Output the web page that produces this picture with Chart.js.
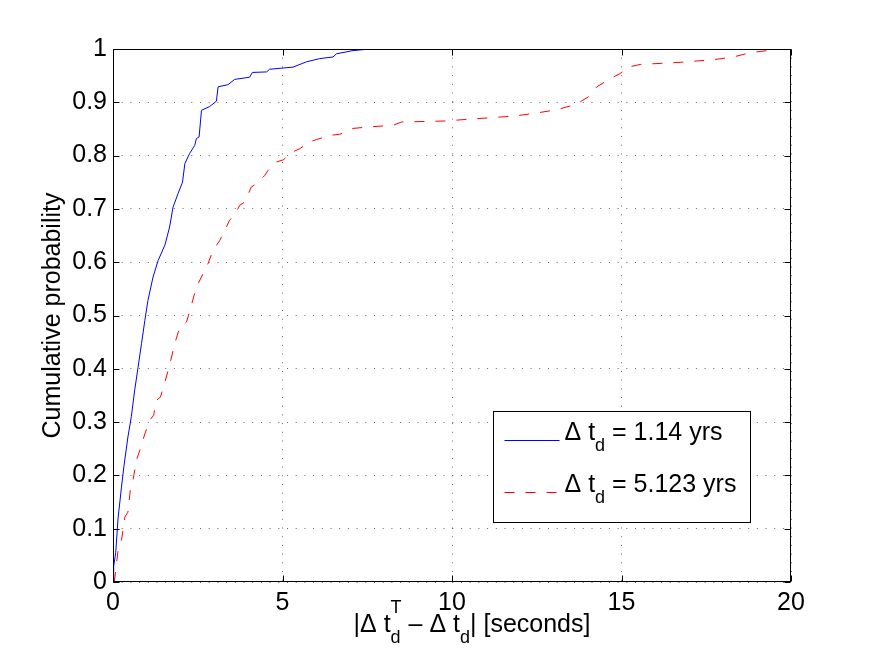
<!DOCTYPE html>
<html>
<head>
<meta charset="utf-8">
<script src="https://cdn.jsdelivr.net/npm/chart.js@4.4.1/dist/chart.umd.min.js"></script>
<style>
	html, body { margin: 0; padding: 0; background: #fff; }
	canvas { display: block; }
</style>
</head>
<body>
<canvas id="cdfChart" width="872" height="655"></canvas>
<script>
'use strict';

// values
var blueX = [0, 0.02, 0.08, 0.15, 0.25, 0.32, 0.44, 0.54, 0.64, 0.74, 0.84, 0.94, 1.03, 1.18, 1.33, 1.53, 1.67, 1.77, 1.92, 2.05,
	2.12, 2.26, 2.41, 2.46, 2.54, 2.61, 2.85, 3.05, 3.10, 3.39, 3.59, 4.03, 4.11, 4.53, 4.62, 5.31, 5.71, 6.10, 6.49, 6.59, 7.08, 7.58];
var blueY = [0, 0.03, 0.055, 0.12, 0.178, 0.216, 0.272, 0.31, 0.36, 0.403, 0.447, 0.491, 0.528, 0.572, 0.603, 0.632, 0.666, 0.703, 0.729, 0.75,
	0.785, 0.804, 0.819, 0.832, 0.835, 0.885, 0.892, 0.902, 0.929, 0.933, 0.943, 0.947, 0.956, 0.957, 0.962, 0.966, 0.976, 0.982, 0.985, 0.991, 0.997, 1.0];

var redX = [0.04, 0.10, 0.15, 0.25, 0.35, 0.44, 0.51, 0.59, 0.69, 0.79, 0.94, 1.08, 1.20, 1.28, 1.40, 1.53, 1.67, 1.82, 1.97, 2.17,
	2.28, 2.46, 2.66, 2.80, 2.95, 3.15, 3.30, 3.44, 3.59, 3.74, 3.89, 4.08, 4.23, 4.48, 4.57, 4.82, 5.02, 5.31, 5.51, 5.81,
	6.00, 6.40, 6.69, 7.08, 7.58, 8.27, 8.51, 9.84, 10.43, 11.81, 12.40, 13.09, 13.48, 13.78, 14.02, 14.27, 14.66, 14.96, 15.20, 15.55,
	16.73, 17.71, 18.30, 18.79, 19.68, 19.95];
var redY = [0, 0.034, 0.059, 0.078, 0.122, 0.131, 0.172, 0.191, 0.228, 0.247, 0.278, 0.303, 0.313, 0.341, 0.347, 0.375, 0.407, 0.447, 0.478, 0.488,
	0.512, 0.553, 0.579, 0.597, 0.622, 0.641, 0.660, 0.679, 0.688, 0.707, 0.713, 0.741, 0.747, 0.763, 0.772, 0.788, 0.792, 0.807, 0.813, 0.826,
	0.830, 0.838, 0.840, 0.851, 0.854, 0.857, 0.863, 0.865, 0.868, 0.874, 0.879, 0.886, 0.893, 0.901, 0.910, 0.929, 0.944, 0.954, 0.966, 0.971,
	0.975, 0.980, 0.985, 0.993, 1.0, 1.0];

var xTickLabels = ['0', '5', '10', '15', '20'];
var yTickLabels = ['0', '0.1', '0.2', '0.3', '0.4', '0.5', '0.6', '0.7', '0.8', '0.9', '1'];
var seriesNames = ['1.14 yrs', '5.123 yrs'];

var FONT = "'Liberation Sans', Arial, Helvetica, sans-serif";
var FS = 25;

function toPoints(xs, ys) {
	return xs.map(function(x, i) { return {x: x, y: ys[i]}; });
}

// draw text made of pieces: {t}, {sub}, {stack:[sup, sub]}
function drawTex(ctx, parts, x, y, size, dry) {
	var small = Math.round(size * 0.7);
	var cx = x;
	parts.forEach(function(p) {
		if (p.stack) {
			ctx.font = small + 'px ' + FONT;
			var w1 = ctx.measureText(p.stack[0]).width;
			var w2 = ctx.measureText(p.stack[1]).width;
			if (!dry) {
				ctx.fillText(p.stack[0], cx, y - 19);
				ctx.fillText(p.stack[1], cx, y + 11);
			}
			cx += Math.max(w1, w2);
		} else if (p.sub) {
			ctx.font = small + 'px ' + FONT;
			if (!dry) ctx.fillText(p.sub, cx, y + 11);
			cx += ctx.measureText(p.sub).width;
		} else {
			ctx.font = size + 'px ' + FONT;
			if (!dry) ctx.fillText(p.t, cx, y);
			cx += ctx.measureText(p.t).width;
		}
	});
	return cx - x;
}

var matlabFrame = {
	id: 'matlabFrame',
	afterDatasetsDraw: function(chart) {
		var ctx = chart.ctx;
		var ca = chart.chartArea;
		var xs = chart.scales.x, ys = chart.scales.y;
		ctx.save();
		ctx.strokeStyle = '#000';
		ctx.lineWidth = 1;
		ctx.setLineDash([]);
		// box
		var l = Math.round(ca.left) + 0.5, r = Math.round(ca.right) - 0.5;
		var t = Math.round(ca.top) + 0.5, b = Math.round(ca.bottom) - 0.5;
		ctx.strokeRect(l, t, r - l, b - t);
		// inner ticks on all sides
		ctx.beginPath();
		xs.ticks.forEach(function(tk) {
			var px = Math.round(xs.getPixelForValue(tk.value)) + 0.5;
			ctx.moveTo(px, b); ctx.lineTo(px, b - 6);
			ctx.moveTo(px, t); ctx.lineTo(px, t + 6);
		});
		ys.ticks.forEach(function(tk) {
			var py = Math.round(ys.getPixelForValue(tk.value)) + 0.5;
			ctx.moveTo(l, py); ctx.lineTo(l + 6, py);
			ctx.moveTo(r, py); ctx.lineTo(r - 6, py);
		});
		ctx.stroke();

		// legend
		var lx = Math.round(ca.right - 298) + 0.5, ly = Math.round(ca.bottom - 171) + 0.5;
		var lw = 257, lh = 111;
		ctx.fillStyle = '#fff';
		ctx.fillRect(lx, ly, lw, lh);
		ctx.strokeRect(lx, ly, lw, lh);
		var rows = [ly + 29, ly + 81];
		chart.data.datasets.forEach(function(ds, i) {
			ctx.save();
			ctx.strokeStyle = ds.borderColor;
			ctx.setLineDash(ds.borderDash || []);
			ctx.beginPath();
			ctx.moveTo(lx + 11, rows[i]);
			ctx.lineTo(lx + 66, rows[i]);
			ctx.stroke();
			ctx.restore();
			ctx.fillStyle = '#000';
			ctx.textBaseline = 'alphabetic';
			ctx.textAlign = 'left';
			drawTex(ctx, [{t: '\u0394 t'}, {sub: 'd'}, {t: ' = ' + seriesNames[i]}], lx + 71, rows[i] - 1, FS);
		});

		// x axis title
		var xParts = [{t: '|\u0394 t'}, {stack: ['T', 'd']}, {t: ' \u2013 \u0394 t'}, {sub: 'd'}, {t: '| [seconds]'}];
		ctx.fillStyle = '#000';
		ctx.textBaseline = 'alphabetic';
		ctx.textAlign = 'left';
		var w = drawTex(ctx, xParts, 0, 0, FS, true);
		var cx = (ca.left + ca.right) / 2 + 20;
		drawTex(ctx, xParts, cx - w / 2, 632, FS);
		ctx.restore();
	}
};

var gridStyle = {
	color: 'rgba(0, 0, 0, 0.6)',
	lineWidth: 1,
	drawTicks: false
};

var ctx = document.getElementById('cdfChart');
new Chart(ctx, {
	type: 'scatter',
	data: {
		datasets: [{
			label: seriesNames[0],
			data: toPoints(blueX, blueY),
			showLine: true,
			borderColor: '#0000ff',
			borderWidth: 1,
			pointRadius: 0,
			tension: 0
		}, {
			label: seriesNames[1],
			data: toPoints(redX, redY),
			showLine: true,
			borderColor: '#ff0000',
			borderWidth: 1,
			borderDash: [10, 11],
			pointRadius: 0,
			tension: 0
		}]
	},
	options: {
		responsive: false,
		animation: false,
		devicePixelRatio: 1,
		layout: {
			padding: {left: 0, top: 49, right: 81, bottom: 0}
		},
		plugins: {
			legend: {display: false},
			tooltip: {enabled: false}
		},
		scales: {
			x: {
				type: 'linear',
				min: 0,
				max: 20,
				ticks: {
					stepSize: 5,
					padding: 6,
					color: '#000',
					font: {family: FONT, size: FS},
					callback: function(v, i) { return xTickLabels[i]; }
				},
				grid: gridStyle,
				border: {display: false, dash: [1, 7.7]},
				afterFit: function(scale) { scale.height = 73; }
			},
			y: {
				type: 'linear',
				min: 0,
				max: 1,
				ticks: {
					stepSize: 0.1,
					padding: 6,
					color: '#000',
					font: {family: FONT, size: FS},
					callback: function(v, i) { return yTickLabels[i]; }
				},
				title: {
					display: true,
					text: 'Cumulative probability',
					color: '#000',
					font: {family: FONT, size: FS},
					padding: {top: 38, bottom: 0}
				},
				grid: gridStyle,
				border: {display: false, dash: [1, 7.7]},
				afterFit: function(scale) { scale.width = 113; }
			}
		}
	},
	plugins: [matlabFrame]
});
</script>
</body>
</html>
